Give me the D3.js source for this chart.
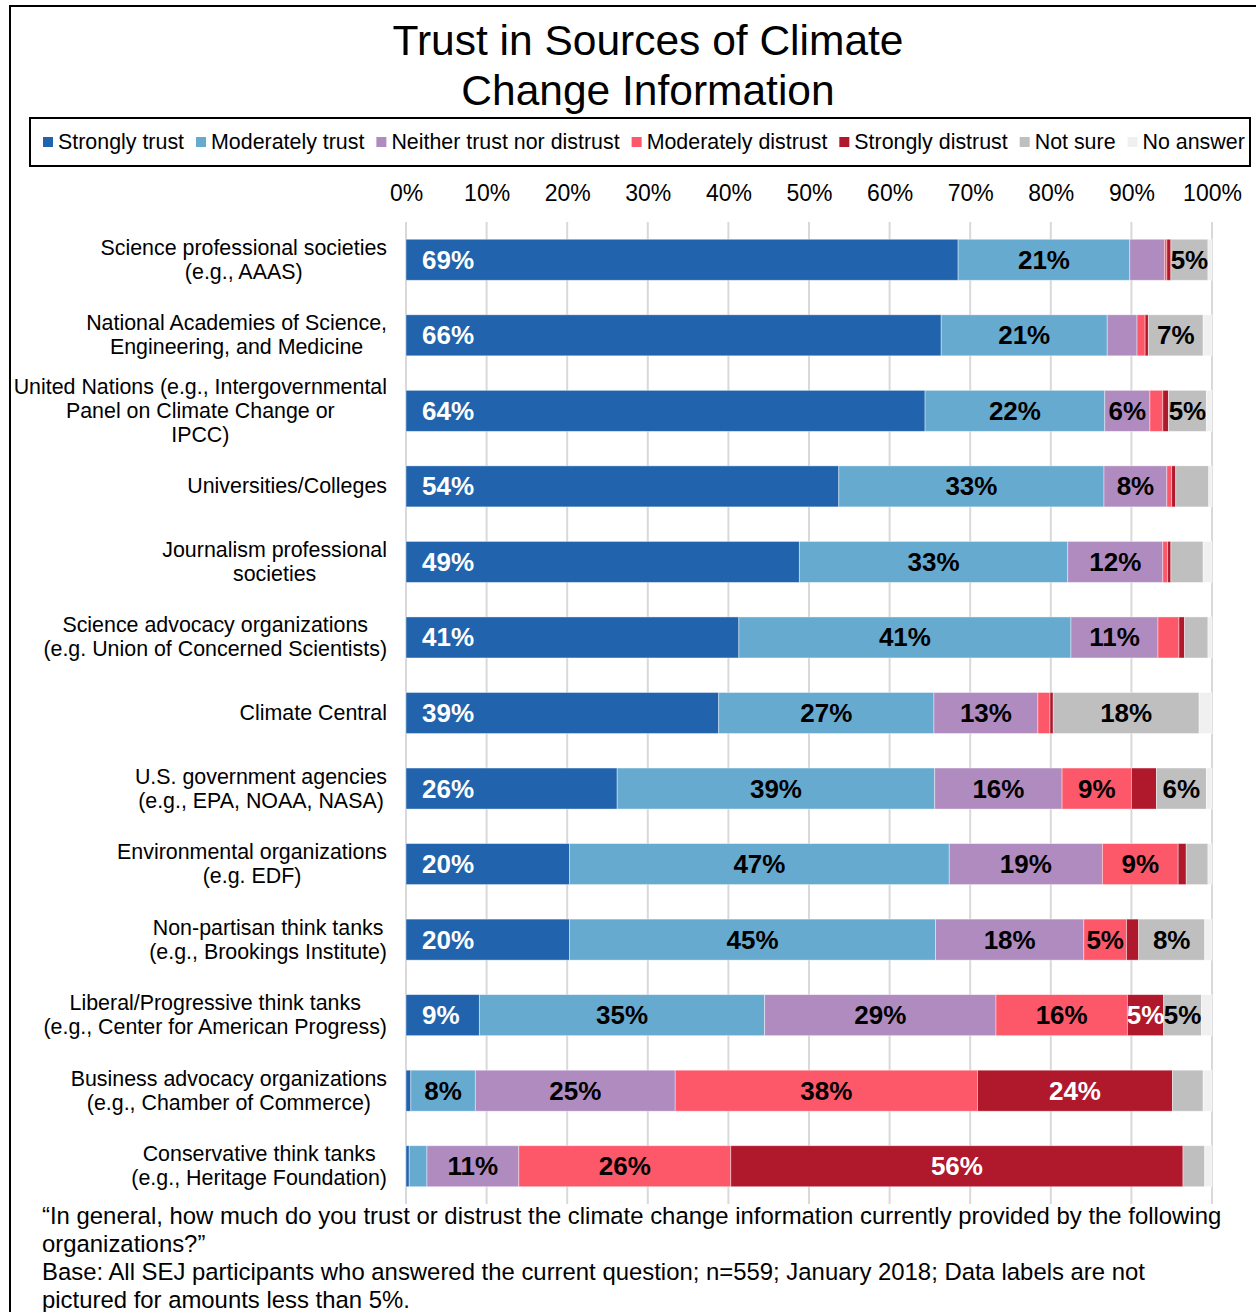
<!DOCTYPE html>
<html lang="en">
<head>
  <meta charset="UTF-8" />
  <title>Trust in Sources of Climate Change Information</title>
  <script src="https://d3js.org/d3.v7.min.js"></script>
  <style>
    body { margin: 0; background: #fff; }
    svg { display: block; font-family: "Liberation Sans", Arial, sans-serif; }
  </style>
</head>
<body>
  <svg id="chart" width="1256" height="1312"></svg>

  <script>
    // categories, top to bottom (lines split where the original wraps)
    const categories = [
      ["Science professional societies", "(e.g., AAAS)"],
      ["National Academies of Science,", "Engineering, and Medicine"],
      ["United Nations (e.g., Intergovernmental", "Panel on Climate Change or", "IPCC)"],
      ["Universities/Colleges"],
      ["Journalism professional", "societies"],
      ["Science advocacy organizations", "(e.g. Union of Concerned Scientists)"],
      ["Climate Central"],
      ["U.S. government agencies", "(e.g., EPA, NOAA, NASA)"],
      ["Environmental organizations", "(e.g. EDF)"],
      ["Non-partisan think tanks", "(e.g., Brookings Institute)"],
      ["Liberal/Progressive think tanks", "(e.g., Center for American Progress)"],
      ["Business advocacy organizations", "(e.g., Chamber of Commerce)"],
      ["Conservative think tanks", "(e.g., Heritage Foundation)"]
    ];

    const seriesNames = ["Strongly trust", "Moderately trust", "Neither trust nor distrust",
      "Moderately distrust", "Strongly distrust", "Not sure", "No answer"];

    // percentages per category
    const strongTrust    = [68.5, 66.4, 64.4, 53.7, 48.8, 41.3, 38.8, 26.2, 20.3, 20.3, 9.1, 0.6, 0.4];
    const modTrust       = [21.3, 20.6, 22.3, 32.9, 33.3, 41.2, 26.7, 39.4, 47.1, 45.4, 35.4, 8.0, 2.2];
    const neither        = [4.3, 3.7, 5.6, 7.8, 11.8, 10.8, 12.9, 15.8, 19.0, 18.4, 28.7, 24.8, 11.4];
    const modDistrust    = [0.3, 1.0, 1.6, 0.6, 0.6, 2.6, 1.5, 8.6, 9.4, 5.3, 16.3, 37.5, 26.3];
    const strongDistrust = [0.5, 0.4, 0.7, 0.5, 0.4, 0.7, 0.4, 3.1, 1.0, 1.5, 4.5, 24.2, 56.1];
    const notSure        = [4.6, 6.8, 4.7, 4.1, 4.0, 2.9, 18.1, 6.2, 2.7, 8.2, 4.7, 3.8, 2.7];
    const noAnswer       = [0.5, 1.1, 0.7, 0.4, 1.1, 0.5, 1.6, 0.7, 0.5, 0.9, 1.3, 1.1, 0.9];

    const xTicks = [0, 10, 20, 30, 40, 50, 60, 70, 80, 90, 100];

    const colors = ["#2164ad", "#67aad0", "#b08bc0", "#fc5869", "#b0182c", "#bfbfbf", "#f0f0f0"];
    const labelColors = ["#fff", "#000", "#000", "#000", "#fff", "#000", "#000"];

    const footnote = [
      "\u201cIn general, how much do you trust or distrust the climate change information currently provided by the following",
      "organizations?\u201d",
      "Base: All SEJ participants who answered the current question; n=559; January 2018; Data labels are not",
      "pictured for amounts less than 5%."
    ];

    const allSeries = [strongTrust, modTrust, neither, modDistrust, strongDistrust, notSure, noAnswer];
    const rows = categories.map((c, i) => {
      const row = { idx: i };
      seriesNames.forEach((s, k) => row[s] = allSeries[k][i]);
      return row;
    });
    const stacked = d3.stack().keys(seriesNames)(rows);

    const svg = d3.select("#chart");

    // outer frame
    svg.append("rect")
      .attr("x", 10).attr("y", 6).attr("width", 1270).attr("height", 1330)
      .attr("fill", "none").attr("stroke", "#000").attr("stroke-width", 2);

    // title
    svg.append("text")
      .attr("x", 648).attr("y", 55)
      .attr("text-anchor", "middle").attr("font-size", 42.5)
      .selectAll("tspan")
      .data(["Trust in Sources of Climate", "Change Information"])
      .join("tspan")
      .attr("x", 648).attr("dy", (d, i) => i ? 50 : 0)
      .text(d => d);

    // legend
    svg.append("rect")
      .attr("x", 30).attr("y", 118).attr("width", 1220).attr("height", 48)
      .attr("fill", "none").attr("stroke", "#000").attr("stroke-width", 2);

    let lx = 43;
    seriesNames.forEach((name, k) => {
      svg.append("rect")
        .attr("x", lx).attr("y", 137).attr("width", 10).attr("height", 10)
        .attr("fill", colors[k]);
      const t = svg.append("text")
        .attr("x", lx + 15).attr("y", 149)
        .attr("font-size", 21.4)
        .text(name);
      lx += 15 + t.node().getComputedTextLength() + 12;
    });

    const x = d3.scaleLinear().domain([0, 100]).range([406, 1212]);
    const y = d3.scaleBand()
      .domain(d3.range(categories.length))
      .range([222, 1204])
      .paddingInner(0.457)
      .paddingOuter(0.2285);

    // vertical gridlines
    svg.append("g")
      .selectAll("line")
      .data(xTicks)
      .join("line")
      .attr("x1", d => x(d)).attr("x2", d => x(d))
      .attr("y1", 222).attr("y2", 1204)
      .attr("stroke", "#d9d9d9").attr("stroke-width", 2);

    // top axis labels
    const xAxis = svg.append("g")
      .attr("transform", "translate(0, 201)")
      .call(d3.axisTop(x).tickValues(xTicks).tickFormat(d => d + "%").tickSize(0).tickPadding(0));
    xAxis.select(".domain").remove();
    xAxis.selectAll("text")
      .attr("font-size", 23)
      .attr("font-family", "Liberation Sans, Arial, sans-serif")
      .attr("fill", "#000");

    // bars
    svg.append("g")
      .selectAll("g")
      .data(stacked)
      .join("g")
      .attr("fill", (d, k) => colors[k])
      .selectAll("rect")
      .data(d => d)
      .join("rect")
      .attr("x", d => x(d[0]))
      .attr("y", d => y(d.data.idx))
      .attr("width", d => x(d[1]) - x(d[0]))
      .attr("height", y.bandwidth())
      .attr("stroke", "#fff").attr("stroke-opacity", 0.5).attr("stroke-width", 0.8);

    // data labels (only for rounded values >= 5)
    stacked.forEach((layer, k) => {
      svg.append("g")
        .selectAll("text")
        .data(layer.filter(d => Math.round(d[1] - d[0]) >= 5))
        .join("text")
        .attr("x", d => k === 0 ? x(d[0]) + 16 : (x(d[0]) + x(d[1])) / 2)
        .attr("y", d => y(d.data.idx) + y.bandwidth() / 2 + 9)
        .attr("text-anchor", k === 0 ? "start" : "middle")
        .attr("font-size", 26).attr("font-weight", "bold")
        .attr("fill", labelColors[k])
        .text(d => Math.round(d[1] - d[0]) + "%");
    });

    // category labels: lines centred on each other, block right-aligned
    categories.forEach((lines, i) => {
      const n = lines.length;
      const cy = y(i) + y.bandwidth() / 2;
      const t = svg.append("text")
        .attr("text-anchor", "middle")
        .attr("font-size", 21.4);
      const spans = t.selectAll("tspan")
        .data(lines)
        .join("tspan")
        .attr("y", (d, j) => cy + 7 - (n - 1) * 12 + j * 24)
        .text(d => d);
      const w = d3.max(spans.nodes(), nd => nd.getComputedTextLength());
      spans.attr("x", 387 - w / 2);
    });

    // footnote
    svg.append("g")
      .selectAll("text")
      .data(footnote)
      .join("text")
      .attr("x", 42)
      .attr("y", (d, i) => 1224 + i * 28)
      .attr("font-size", 23.9)
      .text(d => d);
  </script>
</body>
</html>
